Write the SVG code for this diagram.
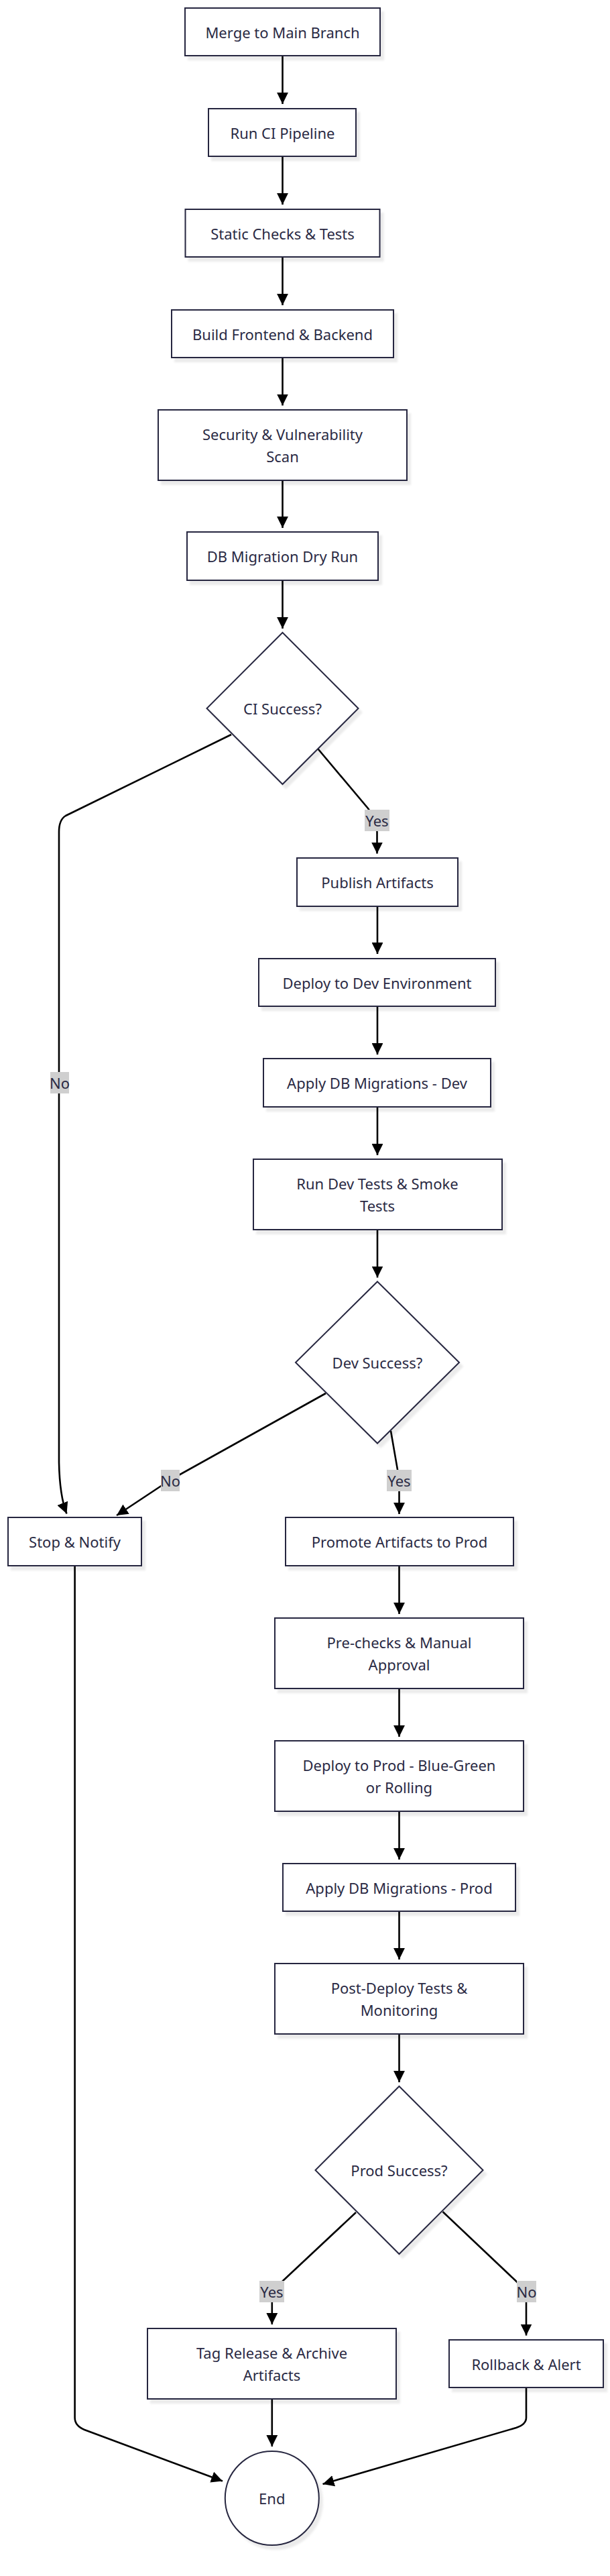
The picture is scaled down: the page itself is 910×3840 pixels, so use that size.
<svg xmlns="http://www.w3.org/2000/svg" width="910" height="3840" viewBox="0 0 910 3840">
<defs>
<filter id="sh" x="-10%" y="-10%" width="130%" height="130%">
<feDropShadow dx="5" dy="6" stdDeviation="1.5" flood-color="#000" flood-opacity="0.08"/>
</filter>
<marker id="ah" viewBox="0 0 10 10" refX="10" refY="5" markerWidth="6.5" markerHeight="6.5" markerUnits="strokeWidth" orient="auto">
<path d="M0,0 L10,5 L0,10 z" fill="#000"/>
</marker>
<style>
.n rect,.n polygon,.n circle{fill:#fff;stroke:#27273f;stroke-width:2;filter:url(#sh)}
.n polygon,.n circle{stroke-width:2}
text{font-family:"Noto Sans","Liberation Sans",sans-serif;font-size:22px;fill:#2a2a44;text-anchor:middle;dominant-baseline:central}
.e path{fill:none;stroke:#000;stroke-width:2.6;marker-end:url(#ah)}
.lb rect{fill:#cfcfcf}
</style>
</defs>
<rect width="910" height="3840" fill="#fff"/>
<g id="edges" class="e">
<path d="M421.5,83 L421.5,155"/>
<path d="M421.5,233 L421.5,305"/>
<path d="M421.5,383 L421.5,455"/>
<path d="M421.5,533 L421.5,604.5"/>
<path d="M421.5,716 L421.5,787"/>
<path d="M421.5,865 L421.5,937"/>
<path d="M474.5,1116.5 L549,1205 Q562.5,1222 562.5,1240 L562.5,1272.5"/>
<path d="M345,1095 L98,1216 Q88,1222 88,1240 L88,2180 Q89,2230 99.5,2256.5"/>
<path d="M563,1351 L563,1422"/>
<path d="M563,1500 L563,1572"/>
<path d="M563,1650 L563,1722"/>
<path d="M563,1833 L563,1904.5"/>
<path d="M486,2077 L254,2206 L174,2259"/>
<path d="M583,2133 Q592,2185 595.5,2205 L595.5,2257"/>
<path d="M595.5,2334 L595.5,2406"/>
<path d="M595.5,2517 L595.5,2589"/>
<path d="M595.5,2700 L595.5,2772"/>
<path d="M595.5,2849 L595.5,2921"/>
<path d="M595.5,3032 L595.5,3104"/>
<path d="M531,3298 L422,3400 Q406,3414 405.8,3432 L405.8,3465"/>
<path d="M660.5,3297 L771,3401.5 Q785,3416 785,3432 L785,3481.5"/>
<path d="M405.8,3576 L405.8,3647"/>
<path d="M111.6,2334 L111.6,3604 Q111.6,3616 126,3622 L332,3698.5"/>
<path d="M785,3559 L785,3604 Q785,3614 770,3619 L481.5,3703"/>
</g>
<g id="edge-labels" class="lb">
<g id="lbl-ci-yes"><rect x="544" y="1207" width="37" height="32"/><text x="562.5" y="1223">Yes</text></g>
<g id="lbl-ci-no"><rect x="75" y="1598" width="28" height="32"/><text x="89" y="1614">No</text></g>
<g id="lbl-dev-no"><rect x="240" y="2191" width="28" height="32"/><text x="254" y="2207">No</text></g>
<g id="lbl-dev-yes"><rect x="577" y="2191" width="37" height="32"/><text x="595.5" y="2207">Yes</text></g>
<g id="lbl-prod-yes"><rect x="387" y="3400" width="37" height="32"/><text x="405.5" y="3416">Yes</text></g>
<g id="lbl-prod-no"><rect x="771" y="3400" width="29" height="32"/><text x="785.5" y="3416">No</text></g>
</g>
<g id="merge" class="n"><rect x="276" y="12" width="291" height="71"/><text x="421.5" y="47.5">Merge to Main Branch</text></g>
<g id="runci" class="n"><rect x="311" y="162" width="220" height="71"/><text x="421.5" y="197.5">Run CI Pipeline</text></g>
<g id="static" class="n"><rect x="276.5" y="312" width="290" height="71"/><text x="421.5" y="347.5">Static Checks &amp; Tests</text></g>
<g id="build" class="n"><rect x="256" y="462" width="331" height="71"/><text x="421.5" y="497.5">Build Frontend &amp; Backend</text></g>
<g id="security" class="n"><rect x="236" y="611" width="371" height="105"/><text x="421.5" y="647">Security &amp; Vulnerability</text><text x="421.5" y="680">Scan</text></g>
<g id="dbdry" class="n"><rect x="279" y="793" width="285" height="72"/><text x="421.5" y="829">DB Migration Dry Run</text></g>
<g id="cisuccess" class="n"><polygon points="421.5,943 534.5,1056 421.5,1169 308.5,1056"/><text x="421.5" y="1056">CI Success?</text></g>
<g id="publish" class="n"><rect x="443" y="1279" width="240" height="72"/><text x="563" y="1315">Publish Artifacts</text></g>
<g id="deploydev" class="n"><rect x="386" y="1429" width="353" height="71"/><text x="562.5" y="1464.5">Deploy to Dev Environment</text></g>
<g id="applydev" class="n"><rect x="393" y="1578" width="339" height="72"/><text x="562.5" y="1614">Apply DB Migrations - Dev</text></g>
<g id="rundev" class="n"><rect x="378" y="1728" width="371" height="105"/><text x="563" y="1764">Run Dev Tests &amp; Smoke</text><text x="563" y="1797">Tests</text></g>
<g id="devsuccess" class="n"><polygon points="563,1910.5 685,2031 563,2151.5 441,2031"/><text x="563" y="2031">Dev Success?</text></g>
<g id="stop" class="n"><rect x="12" y="2262" width="199" height="72"/><text x="111.5" y="2298">Stop &amp; Notify</text></g>
<g id="promote" class="n"><rect x="426" y="2262" width="340" height="72"/><text x="596" y="2298">Promote Artifacts to Prod</text></g>
<g id="prechecks" class="n"><rect x="410" y="2412" width="371" height="105"/><text x="595.5" y="2448">Pre-checks &amp; Manual</text><text x="595.5" y="2481">Approval</text></g>
<g id="deployprod" class="n"><rect x="410" y="2595" width="371" height="105"/><text x="595.5" y="2631">Deploy to Prod - Blue-Green</text><text x="595.5" y="2664">or Rolling</text></g>
<g id="applyprod" class="n"><rect x="422" y="2778" width="347" height="71"/><text x="595.5" y="2813.5">Apply DB Migrations - Prod</text></g>
<g id="postdeploy" class="n"><rect x="410" y="2927" width="371" height="105"/><text x="595.5" y="2963">Post-Deploy Tests &amp;</text><text x="595.5" y="2996">Monitoring</text></g>
<g id="prodsuccess" class="n"><polygon points="595.5,3110 720.5,3235 595.5,3360 470.5,3235"/><text x="595.5" y="3235">Prod Success?</text></g>
<g id="tag" class="n"><rect x="220" y="3471" width="371" height="105"/><text x="405.5" y="3507">Tag Release &amp; Archive</text><text x="405.5" y="3540">Artifacts</text></g>
<g id="rollback" class="n"><rect x="670" y="3488" width="230" height="71"/><text x="785" y="3523.5">Rollback &amp; Alert</text></g>
<g id="end" class="n"><circle cx="405.8" cy="3724" r="70"/><text x="405.8" y="3724">End</text></g>
</svg>
